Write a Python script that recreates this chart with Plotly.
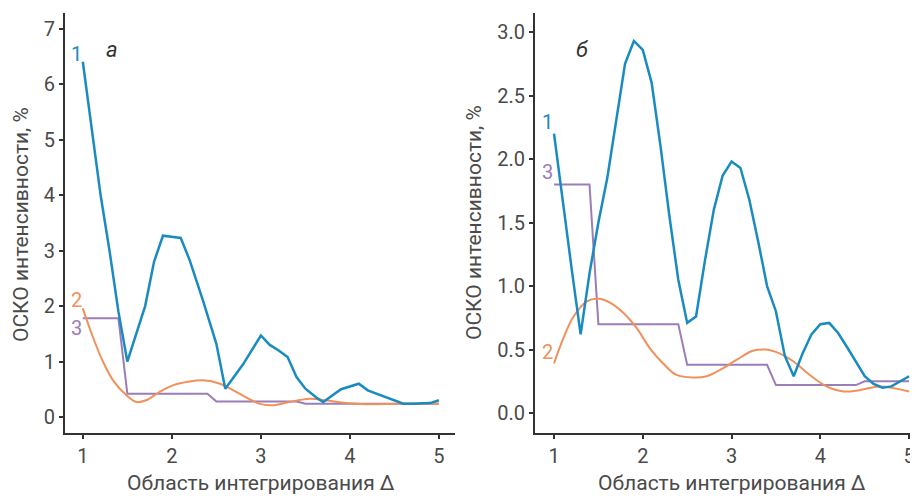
import plotly.graph_objects as go
from plotly.subplots import make_subplots

# Panel a
xa1 = [1.0, 1.2, 1.3, 1.4, 1.5, 1.6, 1.7, 1.8, 1.9, 2.1, 2.2, 2.35, 2.5, 2.6, 2.7, 2.8, 3.0, 3.1, 3.2, 3.3, 3.4, 3.5, 3.64, 3.7, 3.9, 4.1, 4.2, 4.4, 4.6, 4.7, 4.9, 5.0]
ya1 = [6.41, 4.0, 3.0, 1.9, 1.0, 1.5, 2.0, 2.8, 3.27, 3.23, 2.83, 2.1, 1.32, 0.51, 0.72, 0.95, 1.47, 1.3, 1.2, 1.08, 0.72, 0.51, 0.33, 0.27, 0.5, 0.6, 0.48, 0.36, 0.24, 0.24, 0.25, 0.3]
xa2 = [1.0, 1.1, 1.22, 1.34, 1.49, 1.6, 1.71, 1.86, 2.01, 2.2, 2.35, 2.54, 2.76, 2.98, 3.13, 3.32, 3.55, 3.73, 3.96, 4.18, 4.56, 5.0]
ya2 = [1.96, 1.5, 1.02, 0.66, 0.39, 0.27, 0.3, 0.45, 0.57, 0.64, 0.66, 0.6, 0.42, 0.24, 0.21, 0.27, 0.33, 0.3, 0.25, 0.23, 0.24, 0.24]
xa3 = [1.0, 1.4, 1.5, 2.4, 2.5, 3.4, 3.5, 5.0]
ya3 = [1.78, 1.78, 0.42, 0.42, 0.28, 0.28, 0.24, 0.24]

# Panel b
xb1 = [1.0, 1.1, 1.2, 1.3, 1.4, 1.5, 1.6, 1.7, 1.8, 1.9, 2.0, 2.1, 2.2, 2.3, 2.4, 2.5, 2.6, 2.7, 2.8, 2.9, 3.0, 3.1, 3.2, 3.3, 3.4, 3.5, 3.6, 3.7, 3.8, 3.9, 4.0, 4.1, 4.2, 4.3, 4.4, 4.5, 4.6, 4.7, 4.8, 4.9, 5.0]
yb1 = [2.2, 1.65, 1.13, 0.62, 1.1, 1.5, 1.85, 2.3, 2.75, 2.93, 2.86, 2.6, 2.1, 1.55, 1.05, 0.71, 0.76, 1.2, 1.6, 1.87, 1.98, 1.93, 1.68, 1.35, 1.0, 0.8, 0.45, 0.29, 0.47, 0.62, 0.7, 0.71, 0.63, 0.52, 0.4, 0.29, 0.23, 0.2, 0.21, 0.25, 0.29]
xb2 = [1.0, 1.1, 1.22, 1.37, 1.5, 1.63, 1.78, 1.93, 2.08, 2.23, 2.38, 2.57, 2.72, 2.87, 3.06, 3.24, 3.39, 3.54, 3.69, 3.88, 4.07, 4.26, 4.44, 4.67, 5.0]
yb2 = [0.39, 0.58, 0.76, 0.88, 0.9, 0.87, 0.79, 0.67, 0.51, 0.39, 0.3, 0.28, 0.29, 0.34, 0.42, 0.49, 0.5, 0.47, 0.41, 0.3, 0.21, 0.17, 0.18, 0.21, 0.17]
xb3 = [1.0, 1.4, 1.5, 2.4, 2.5, 3.4, 3.5, 4.4, 4.5, 5.0]
yb3 = [1.8, 1.8, 0.7, 0.7, 0.38, 0.38, 0.22, 0.22, 0.25, 0.25]

xticks = [1, 2, 3, 4, 5]
yticks_a = [0, 1, 2, 3, 4, 5, 6, 7]
yticks_b = [0, 0.5, 1.0, 1.5, 2.0, 2.5, 3.0]
yticktext_b = ["0.0", "0.5", "1.0", "1.5", "2.0", "2.5", "3.0"]
xtitle = "Область интегрирования Δ"
ytitle = "ОСКО интенсивности, %"

BLUE = "#1a8bc0"
ORANGE = "#f0915c"
PURPLE = "#9b7db8"
TXT = "#4a4a4a"
FONT = "Roboto"

# page has an 8px body margin: figure is drawn 8px right/down
OFF = 8
W, H = 918 - OFF, 496 - OFF
ML, MT, MB = 65 - OFF, 13 - OFF, 63
PW, PH = W - ML, H - MT - MB

fig = make_subplots(rows=1, cols=2)

fig.add_trace(go.Scatter(x=xa3, y=ya3, mode="lines", line=dict(color=PURPLE, width=2)), 1, 1)
fig.add_trace(go.Scatter(x=xa2, y=ya2, mode="lines", line=dict(color=ORANGE, width=2, shape="spline")), 1, 1)
fig.add_trace(go.Scatter(x=xa1, y=ya1, mode="lines", line=dict(color=BLUE, width=2.5)), 1, 1)

fig.add_trace(go.Scatter(x=xb3, y=yb3, mode="lines", line=dict(color=PURPLE, width=2)), 1, 2)
fig.add_trace(go.Scatter(x=xb2, y=yb2, mode="lines", line=dict(color=ORANGE, width=2, shape="spline")), 1, 2)
fig.add_trace(go.Scatter(x=xb1, y=yb1, mode="lines", line=dict(color=BLUE, width=2.5)), 1, 2)

axcommon = dict(showgrid=False, zeroline=False, showline=True, linecolor="#333333", linewidth=2,
                ticks="outside", ticklen=4, tickwidth=1.5, tickcolor="#333333", automargin=False,
                tickfont=dict(size=20, color=TXT, family=FONT))

fig.update_xaxes(**axcommon, tickvals=xticks)
fig.update_xaxes(range=[0.8, 5.18], domain=[0, 390 / PW], row=1, col=1)
fig.update_xaxes(range=[0.786, 5.1], domain=[470 / PW, 1.0], row=1, col=2)

fig.update_yaxes(**axcommon)
fig.update_yaxes(range=[-0.29, 7.29], tickvals=yticks_a, row=1, col=1)
fig.update_yaxes(range=[-0.157, 3.15], tickvals=yticks_b, ticktext=yticktext_b, row=1, col=2)

def lab(text, x, y, color, xref, yref, italic=False, size=20):
    fig.add_annotation(text=text, x=x, y=y, xref=xref, yref=yref, showarrow=False,
                       font=dict(size=size, color=color, family=FONT,
                                 style="italic" if italic else "normal"))

lab("1", 0.93, 6.55, BLUE, "x", "y")
lab("2", 0.93, 2.11, ORANGE, "x", "y")
lab("3", 0.93, 1.61, PURPLE, "x", "y")
lab("а", 1.33, 6.64, "#333333", "x", "y", italic=True, size=22)

lab("1", 0.93, 2.29, BLUE, "x2", "y2")
lab("3", 0.93, 1.9, PURPLE, "x2", "y2")
lab("2", 0.93, 0.48, ORANGE, "x2", "y2")
lab("б", 1.31, 2.86, "#333333", "x2", "y2", italic=True, size=22)

def ptitle(text, px, py, angle=0):
    # px, py: page pixel centre
    fx = (px - OFF - ML) / PW
    fy = 1 - (py - OFF - MT) / PH
    fig.add_annotation(text=text, x=fx, y=fy, xref="paper", yref="paper",
                       xanchor="center", yanchor="middle", showarrow=False, textangle=angle,
                       font=dict(size=21, color=TXT, family=FONT))

ptitle(xtitle, 261, 483)
ptitle(xtitle, 732, 483)
ptitle(ytitle, 21, 225, -90)
ptitle(ytitle, 474, 223, -90)

fig.update_layout(width=W, height=H, showlegend=False,
                  margin=dict(l=ML, r=0, t=MT, b=MB, autoexpand=False),
                  paper_bgcolor="white", plot_bgcolor="white",
                  font=dict(family=FONT, color=TXT))

fig.write_html("out.html")
